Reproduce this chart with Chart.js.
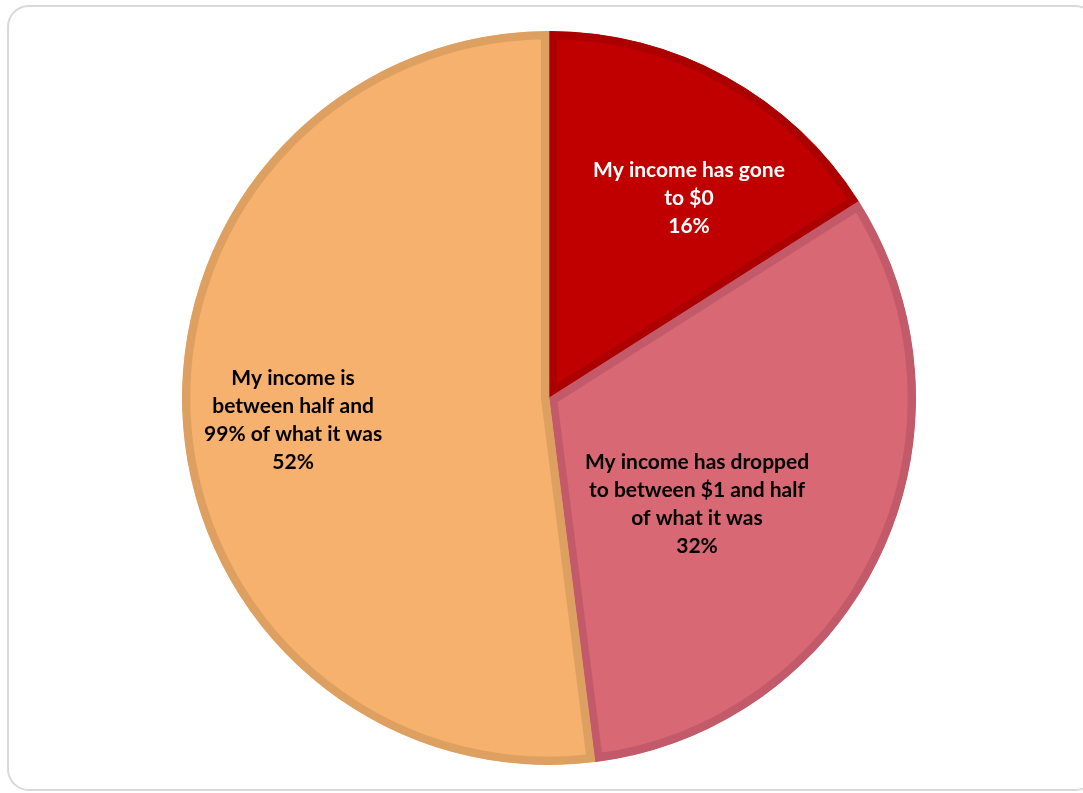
<!DOCTYPE html>
<html>
<head>
<meta charset="utf-8">
<script src="https://cdn.jsdelivr.net/npm/chart.js@4/dist/chart.umd.min.js"></script>
<style>
  html, body { margin: 0; padding: 0; background: #fff; overflow: hidden; }
  .card {
    position: absolute; left: 7px; top: 5px; width: 1090px; height: 786px;
    border: 2px solid #d9d9d9; border-radius: 22px; box-sizing: border-box;
  }
  .wrap { position: absolute; left: 182px; top: 31px; width: 734px; height: 734px; }
</style>
</head>
<body>
<div class="card"></div>
<div class="wrap"><canvas id="pieChart"></canvas></div>
<script>
const categories = [
  ['My income has gone', 'to $0'],
  ['My income has dropped', 'to between $1 and half', 'of what it was'],
  ['My income is', 'between half and', '99% of what it was']
];
const shares = [16, 32, 52];
const fillColors = ['#c00000', '#d76874', '#f5b16d'];
const edgeColors = ['#ac0000', '#c25a6a', '#dea061'];
const textColors = ['#ffffff', '#000000', '#000000'];

// where each label sits inside its slice: angle from top (deg), fraction of radius
const labelSpots = [[35, 0.665], [125.6, 0.496], [265, 0.70]];

const sliceLabels = {
  id: 'sliceLabels',
  afterDatasetsDraw(chart) {
    const ctx = chart.ctx;
    const arcs = chart.getDatasetMeta(0).data;
    ctx.save();
    ctx.font = 'bold 21px Lato, "Open Sans", sans-serif';
    ctx.textAlign = 'center';
    ctx.textBaseline = 'middle';
    arcs.forEach((arc, i) => {
      const a = labelSpots[i][0] * Math.PI / 180;
      const r = arc.outerRadius * labelSpots[i][1];
      const cx = arc.x + r * Math.sin(a);
      const cy = arc.y - r * Math.cos(a);
      const lines = [...categories[i], shares[i] + '%'];
      const lh = 28;
      const top = cy - (lines.length - 1) * lh / 2;
      ctx.fillStyle = textColors[i];
      lines.forEach((t, k) => ctx.fillText(t, cx, top + k * lh));
    });
    ctx.restore();
  }
};

new Chart(document.getElementById('pieChart'), {
  type: 'pie',
  data: {
    labels: categories.map(c => c.join(' ')),
    datasets: [{
      data: shares,
      backgroundColor: fillColors,
      borderColor: edgeColors,
      borderWidth: 8,
      borderAlign: 'inner'
    }]
  },
  options: {
    responsive: true,
    maintainAspectRatio: false,
    animation: false,
    layout: { padding: 0 },
    plugins: {
      legend: { display: false },
      tooltip: { enabled: false }
    }
  },
  plugins: [sliceLabels]
});
</script>
</body>
</html>
